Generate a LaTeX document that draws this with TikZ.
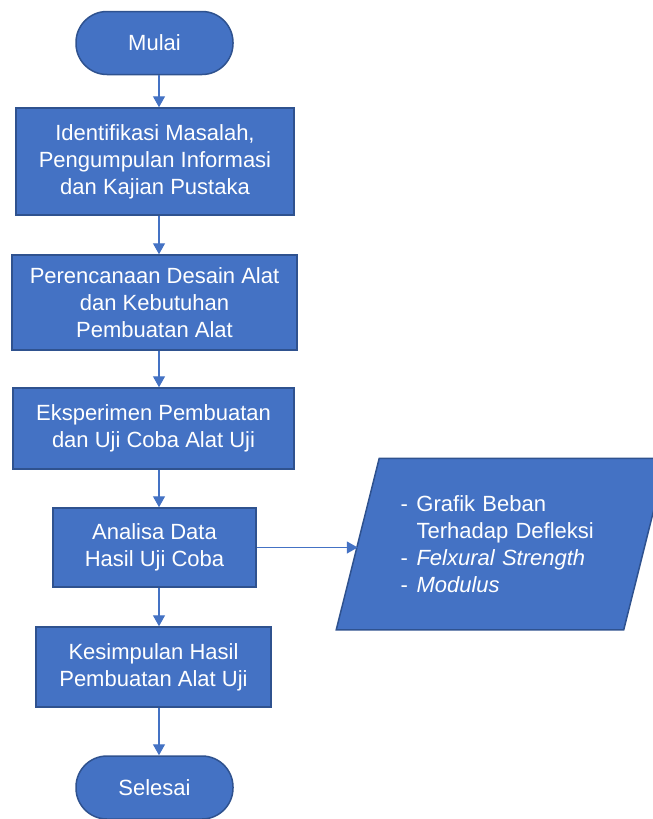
\documentclass[tikz,border=0pt]{standalone}
\usepackage{fontspec}
\setmainfont{Liberation Sans}
\usetikzlibrary{arrows.meta,backgrounds}
\definecolor{boxfill}{HTML}{4472C4}
\definecolor{boxline}{HTML}{2F528F}
\begin{document}
\begin{tikzpicture}[x=1pt,y=-1pt,
  boxline/.style={draw=boxline,fill=boxfill,line width=1.5pt},
  proc/.style={boxline,text=white,align=center,inner sep=0pt,font=\fontsize{22}{27}\selectfont},
  term/.style={proc,rounded corners=31pt,minimum width=157pt,minimum height=63pt},
  flow/.style={draw=boxfill,line width=1.3pt,-{Triangle[width=12pt,length=11pt]}}]
\useasboundingbox (0,0) rectangle (653,819);
\coordinate (spine) at (159,0);
\node[term] (start) at (154.5,43) {Mulai};
\node[proc,minimum width=278pt,minimum height=107pt] (ident) at (155,161.5) {Identifikasi Masalah,\\Pengumpulan Informasi\\dan Kajian Pustaka};
\node[proc,minimum width=285pt,minimum height=95pt] (rencana) at (154.5,302.5) {Perencanaan Desain Alat\\dan Kebutuhan\\Pembuatan Alat};
\node[proc,minimum width=281pt,minimum height=81pt] (eksp) at (153.5,428.5) {Eksperimen Pembuatan\\dan Uji Coba Alat Uji};
\node[proc,minimum width=203pt,minimum height=79pt] (ana) at (154.5,547.5) {Analisa Data\\Hasil Uji Coba};
\node[proc,minimum width=235pt,minimum height=80pt] (simpul) at (153.5,667) {Kesimpulan Hasil\\Pembuatan Alat Uji};
\node[term] (stop) at (154.5,787.5) {Selesai};
% data output (parallelogram drawn behind)
\node[proc,draw=none,fill=none,minimum width=286pt,minimum height=170pt,text width=202pt,align=left] (hasil) at (501.5,544)
  {\makebox[16pt][l]{-}Grafik Beban\\
   \hspace*{16pt}Terhadap Defleksi\\
   \makebox[16pt][l]{-}\textit{Felxural Strength}\\
   \makebox[16pt][l]{-}\textit{Modulus}};
\begin{scope}[on background layer]
\draw[boxline] ([xshift=21.5pt]hasil.north west) -- ([xshift=21.5pt]hasil.north east)
  -- ([xshift=-21.5pt]hasil.south east) -- ([xshift=-21.5pt]hasil.south west) -- cycle;
\end{scope}
\draw[flow] (start.south -| spine) -- (ident.north -| spine);
\draw[flow] (ident.south -| spine) -- (rencana.north -| spine);
\draw[flow] (rencana.south -| spine) -- (eksp.north -| spine);
\draw[flow] (eksp.south -| spine) -- (ana.north -| spine);
\draw[flow] (ana.south -| spine) -- (simpul.north -| spine);
\draw[flow] (simpul.south -| spine) -- (stop.north -| spine);
\draw[flow] (ana.east) -- (ana.east -| hasil.west);
\end{tikzpicture}
\end{document}
